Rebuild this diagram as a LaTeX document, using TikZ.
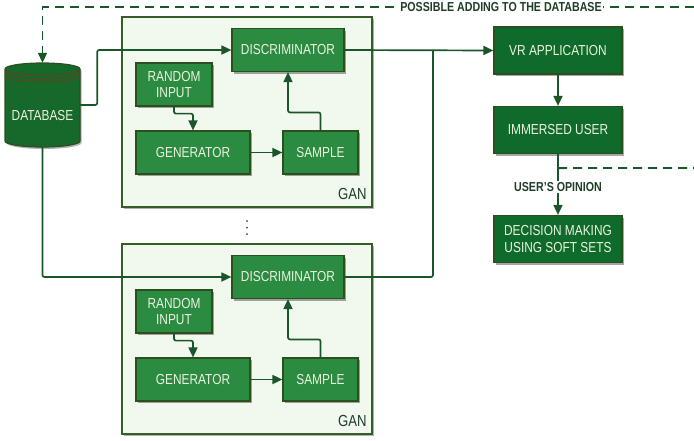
\documentclass[tikz,border=0pt]{standalone}
\usepackage{fontspec}
\setmainfont{Liberation Sans}[FakeStretch=0.82]
\usetikzlibrary{arrows.meta,shadows,calc}
\definecolor{linegreen}{HTML}{1B552A}
\definecolor{boxlight}{HTML}{2A8B41}
\definecolor{boxdark}{HTML}{0F6B2C}
\definecolor{boxedge}{HTML}{2C4F1E}
\definecolor{boxtext}{HTML}{EEF3E0}
\definecolor{ganfill}{HTML}{F1F8EE}
\definecolor{ganedge}{HTML}{335E2A}
\definecolor{dbfill}{HTML}{17692B}
\definecolor{ringc}{HTML}{5B4420}
\definecolor{notec}{HTML}{1F3D26}

\begin{document}
\begin{tikzpicture}[x=1pt,y=-1pt,
  box/.style={draw=boxedge, line width=1.2pt, fill=boxlight, text=boxtext, minimum height=43pt, inner sep=2pt, align=center, font=\fontsize{14.5}{16}\selectfont, drop shadow={shadow xshift=1.5pt, shadow yshift=-2pt, fill=black, opacity=.35}},
  appbox/.style={box, fill=boxdark, minimum width=128pt, minimum height=47pt},
  ganbox/.style={draw=ganedge, line width=1.5pt, fill=ganfill, minimum width=250pt, minimum height=190pt, drop shadow={shadow xshift=1.5pt, shadow yshift=-2pt, fill=black, opacity=.3}},
  ganlabel/.style={text=notec, font=\fontsize{16}{18}\selectfont, inner sep=1pt},
  notelabel/.style={text=notec, fill=white, inner sep=1pt, font=\bfseries\fontsize{13}{15}\selectfont},
  link/.style={linegreen, line width=1.7pt, rounded corners=2pt, >={Triangle[length=10pt, width=9pt]}},
  dashline/.style={linegreen, line width=1.8pt, dash pattern=on 9pt off 6pt, >={Triangle[length=10pt, width=9pt]}}]
\useasboundingbox (0,0) rectangle (694,440);

% database cylinder
\filldraw[fill=dbfill, draw=boxedge, line width=1.2pt, drop shadow={shadow xshift=1.5pt, shadow yshift=-2pt, fill=black, opacity=.3}] (5,69) -- (5,141) arc[start angle=180, end angle=360, x radius=37.5pt, y radius=6pt] -- (80,69) arc[start angle=0, end angle=180, x radius=37.5pt, y radius=6pt] -- cycle;
\foreach \d in {0,3.5,7}
  \draw[ringc, line width=1pt] (5,{69+\d}) arc[start angle=180, end angle=360, x radius=37.5pt, y radius=6pt];
\node[minimum width=75pt, minimum height=84pt, label={[text=boxtext, font=\fontsize{14.5}{16}\selectfont, yshift=-11pt]center:DATABASE}] (db) at (42.5,105) {};

% the two GANs
\foreach \g/\dy in {1/0,2/227} {
  \node[ganbox] (gan\g) at (247,{112+\dy}) {};
  \node[ganlabel, anchor=south east] (ganlbl\g) at ([xshift=-5pt, yshift=7pt]gan\g.south east) {GAN};
  \node[box, minimum width=112pt] (disc\g) at (288,{50+\dy}) {DISCRIMINATOR};
  \node[box, minimum width=76pt] (rand\g) at (174,{84.5+\dy}) {RANDOM\\INPUT};
  \node[box, minimum width=114pt] (gen\g) at (193,{152.5+\dy}) {GENERATOR};
  \node[box, minimum width=75pt] (sample\g) at (320.5,{152.5+\dy}) {SAMPLE};
  \draw[link,->] (rand\g.south) -- ++(0,7) -| (gen\g.north);
  \draw[link,->] (gen\g.east) -- (sample\g.west);
  \draw[link,->] (sample\g.north) -- ++(0,-18) -| (disc\g.south);
}
% dots between the GANs
\foreach \i in {0,1,2}
  \fill[black!75] (247,{221+\i*6.5}) circle[radius=1pt];

% application side
\node[appbox] (vr) at (558,50.5) {VR APPLICATION};
\node[appbox] (imm) at (558,130) {IMMERSED USER};
\node[appbox, font=\fontsize{14.5}{17}\selectfont] (dec) at (558,239) {DECISION MAKING\\USING SOFT SETS};

\coordinate (jn) at (433,50);
\coordinate (edgeA) at (694,7);
\coordinate (edgeB) at (694,168);
\coordinate (opin) at ($(imm.south)+(0,14)$);

\draw[link,->] (db.east) -- ++(17,0) |- (disc1.west);
\draw[link,->] (db.south) |- (disc2.west);
\draw[link,->] (disc1.east) -- (vr.west);
\draw[link] (disc2.east) -| (jn);
\draw[link,->] (vr.south) -- (imm.north);
\draw[link,->] (imm.south) -- (dec.north);
\draw[dashline] (opin) -- (edgeB);
\draw[dashline,->] (edgeA) -| (db.north);

\node[notelabel] (addlbl) at (501,7) {POSSIBLE ADDING TO THE DATABASE};
\node[notelabel] (oplbl) at (558,187) {USER'S OPINION};
\end{tikzpicture}
\end{document}
